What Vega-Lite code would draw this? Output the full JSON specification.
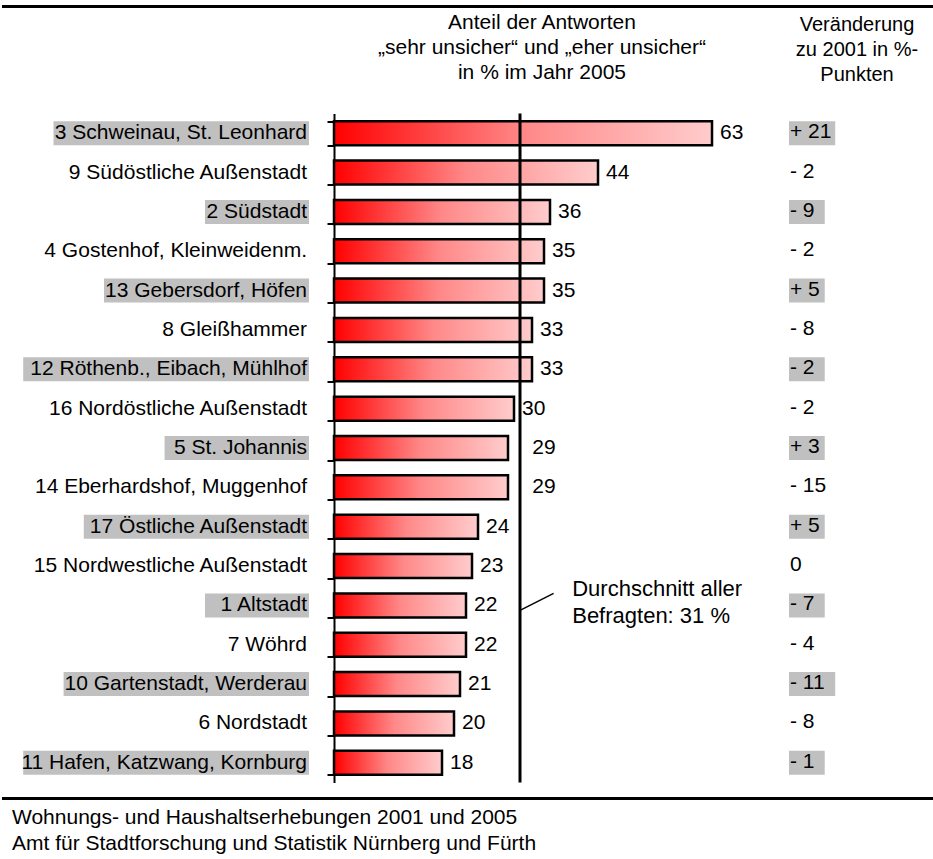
{
  "$schema": "https://vega.github.io/schema/vega-lite/v6.json",
  "padding": 0,
  "background": "white",
  "spacing": 3.5,
  "config": {
    "view": {"stroke": null},
    "text": {"font": "Liberation Sans", "fontSize": 21, "color": "black"},
    "title": {"font": "Liberation Sans", "fontSize": 20, "fontWeight": "normal", "lineHeight": 25, "offset": 29, "color": "black", "anchor": "middle"}
  },
  "datasets": {
    "bez": [
      {"bezirk": "3 Schweinau, St. Leonhard", "wert": 63, "diff": "+ 21", "markiert": 1},
      {"bezirk": "9 Südöstliche Außenstadt", "wert": 44, "diff": "- 2", "markiert": 0},
      {"bezirk": "2 Südstadt", "wert": 36, "diff": "- 9", "markiert": 1},
      {"bezirk": "4 Gostenhof, Kleinweidenm.", "wert": 35, "diff": "- 2", "markiert": 0},
      {"bezirk": "13 Gebersdorf, Höfen", "wert": 35, "diff": "+ 5", "markiert": 1},
      {"bezirk": "8 Gleißhammer", "wert": 33, "diff": "- 8", "markiert": 0},
      {"bezirk": "12 Röthenb., Eibach, Mühlhof", "wert": 33, "diff": "- 2", "markiert": 1},
      {"bezirk": "16 Nordöstliche Außenstadt", "wert": 30, "diff": "- 2", "markiert": 0},
      {"bezirk": "5 St. Johannis", "wert": 29, "diff": "+ 3", "markiert": 1},
      {"bezirk": "14 Eberhardshof, Muggenhof", "wert": 29, "diff": "- 15", "markiert": 0},
      {"bezirk": "17 Östliche Außenstadt", "wert": 24, "diff": "+ 5", "markiert": 1},
      {"bezirk": "15 Nordwestliche Außenstadt", "wert": 23, "diff": "0", "markiert": 0},
      {"bezirk": "1 Altstadt", "wert": 22, "diff": "- 7", "markiert": 1},
      {"bezirk": "7 Wöhrd", "wert": 22, "diff": "- 4", "markiert": 0},
      {"bezirk": "10 Gartenstadt, Werderau", "wert": 21, "diff": "- 11", "markiert": 1},
      {"bezirk": "6 Nordstadt", "wert": 20, "diff": "- 8", "markiert": 0},
      {"bezirk": "11 Hafen, Katzwang, Kornburg", "wert": 18, "diff": "- 1", "markiert": 1}
    ],
    "fuss": [
      {"zeile": "Wohnungs- und Haushaltserhebungen 2001 und 2005"},
      {"zeile": "Amt für Stadtforschung und Statistik Nürnberg und Fürth"}
    ],
    "schnitt": [
      {"bezirk": "1 Altstadt", "von": 31, "bis": 36.6, "textx": 39.7}
    ]
  },
  "vconcat": [
    {
      "width": 933,
      "height": 6.5,
      "data": {"values": [{}]},
      "mark": {"type": "rule", "strokeWidth": 3, "color": "black"},
      "encoding": {"y": {"datum": 0, "type": "quantitative", "scale": {"domain": [0, 1]}, "axis": null}}
    },
    {
      "hconcat": [
        {
          "width": 332,
          "height": 669,
          "data": {"name": "bez"},
          "transform": [{"calculate": "-(length(datum.bezirk) + 0.3)", "as": "kastenlinks"}],
          "layer": [
            {
              "mark": {"type": "bar"},
              "encoding": {
                "y": {"field": "bezirk", "type": "nominal", "sort": null, "axis": null, "scale": {"paddingInner": 0.39, "paddingOuter": 0.195}},
                "x": {"field": "kastenlinks", "type": "quantitative", "scale": {"domain": [-30.4, 2.475], "nice": false, "zero": false}, "axis": null},
                "x2": {"datum": 0},
                "color": {"condition": {"test": "datum.markiert == 1", "value": "#c0c0c0"}, "value": "transparent"}
              }
            },
            {
              "mark": {"type": "text", "align": "right", "baseline": "middle", "dx": -2},
              "encoding": {
                "y": {"field": "bezirk", "type": "nominal", "sort": null},
                "x": {"datum": 0, "type": "quantitative"},
                "text": {"field": "bezirk"}
              }
            }
          ]
        },
        {
          "width": 455,
          "height": 669,
          "title": {"text": ["Anteil der Antworten", "„sehr unsicher“ und „eher unsicher“", "in % im Jahr 2005"], "dx": -19.5, "fontSize": 21},
          "layer": [
            {
              "data": {"name": "bez"},
              "mark": {"type": "bar", "stroke": "black", "strokeWidth": 2.5,
                "fill": {"gradient": "linear", "x1": 0, "y1": 0, "x2": 1, "y2": 0,
                  "stops": [{"offset": 0, "color": "#ff0000"}, {"offset": 0.5, "color": "#ff8888"}, {"offset": 1, "color": "#ffcccc"}]}},
              "encoding": {
                "y": {"field": "bezirk", "type": "nominal", "sort": null,
                  "scale": {"paddingInner": 0.39, "paddingOuter": 0.195,
                    "domain": ["3 Schweinau, St. Leonhard", "9 Südöstliche Außenstadt", "2 Südstadt", "4 Gostenhof, Kleinweidenm.", "13 Gebersdorf, Höfen", "8 Gleißhammer", "12 Röthenb., Eibach, Mühlhof", "16 Nordöstliche Außenstadt", "5 St. Johannis", "14 Eberhardshof, Muggenhof", "17 Östliche Außenstadt", "15 Nordwestliche Außenstadt", "1 Altstadt", "7 Wöhrd", "10 Gartenstadt, Werderau", "6 Nordstadt", "11 Hafen, Katzwang, Kornburg"]},
                  "axis": {"labels": false, "title": null, "tickBand": "extent", "domainColor": "black", "domainWidth": 2, "tickColor": "black", "tickWidth": 2, "tickSize": 7}},
                "x": {"field": "wert", "type": "quantitative", "scale": {"domain": [0, 75.83], "nice": false}, "axis": null}
              }
            },
            {
              "data": {"name": "bez"},
              "transform": [{"calculate": "datum.wert >= 27 && datum.wert < 30 ? 31.7 : datum.wert", "as": "beschriftung"}],
              "mark": {"type": "text", "align": "left", "baseline": "middle", "dx": 8},
              "encoding": {
                "y": {"field": "bezirk", "type": "nominal", "sort": null},
                "x": {"field": "beschriftung", "type": "quantitative"},
                "text": {"field": "wert"}
              }
            },
            {
              "data": {"values": [{}]},
              "mark": {"type": "rule", "strokeWidth": 3, "color": "black"},
              "encoding": {"x": {"datum": 31, "type": "quantitative"}}
            },
            {
              "data": {"name": "schnitt"},
              "mark": {"type": "rule", "strokeWidth": 1.5, "color": "black", "yOffset": 5, "y2Offset": -12},
              "encoding": {
                "y": {"field": "bezirk", "type": "nominal"},
                "y2": {"field": "bezirk"},
                "x": {"field": "von", "type": "quantitative"},
                "x2": {"field": "bis"}
              }
            },
            {
              "data": {"name": "schnitt"},
              "mark": {"type": "text", "align": "left", "baseline": "middle", "fontSize": 22, "lineHeight": 27, "dy": -16},
              "encoding": {
                "y": {"field": "bezirk", "type": "nominal"},
                "x": {"field": "textx", "type": "quantitative"},
                "text": {"value": ["Durchschnitt aller", "Befragten: 31 %"]}
              }
            }
          ]
        },
        {
          "width": 146,
          "height": 669,
          "title": {"text": ["Veränderung", "zu 2001 in %-", "Punkten"], "dx": -5},
          "data": {"name": "bez"},
          "transform": [{"calculate": "length(datum.diff) + 0.4", "as": "kastenrechts"}],
          "layer": [
            {
              "mark": {"type": "bar"},
              "encoding": {
                "y": {"field": "bezirk", "type": "nominal", "sort": null, "axis": null, "scale": {"paddingInner": 0.39, "paddingOuter": 0.195}},
                "x": {"field": "kastenrechts", "type": "quantitative", "scale": {"domain": [0, 13.9], "nice": false}, "axis": null},
                "x2": {"datum": 0},
                "color": {"condition": {"test": "datum.markiert == 1", "value": "#c0c0c0"}, "value": "transparent"}
              }
            },
            {
              "mark": {"type": "text", "align": "left", "baseline": "middle", "dx": 1, "dy": -1},
              "encoding": {
                "y": {"field": "bezirk", "type": "nominal", "sort": null},
                "x": {"datum": 0, "type": "quantitative"},
                "text": {"field": "diff"}
              }
            }
          ]
        }
      ],
      "spacing": 0,
      "bounds": "flush"
    },
    {
      "width": 933,
      "height": 73.5,
      "layer": [
        {
          "data": {"values": [{}]},
          "mark": {"type": "rule", "strokeWidth": 3, "color": "black", "yOffset": 10.5},
          "encoding": {"y": {"datum": 1, "type": "quantitative", "scale": {"domain": [0, 1]}, "axis": null}}
        },
        {
          "data": {"name": "fuss"},
          "mark": {"type": "text", "align": "left", "baseline": "middle", "dx": 10, "dy": 6, "fontSize": 21},
          "encoding": {
            "y": {"field": "zeile", "type": "nominal", "sort": null, "axis": null, "scale": {"type": "band", "paddingInner": 0, "paddingOuter": 0.413}},
            "x": {"datum": 0, "type": "quantitative", "scale": {"domain": [0, 1]}, "axis": null},
            "text": {"field": "zeile"}
          }
        }
      ],
      "resolve": {"scale": {"y": "independent"}}
    }
  ]
}
